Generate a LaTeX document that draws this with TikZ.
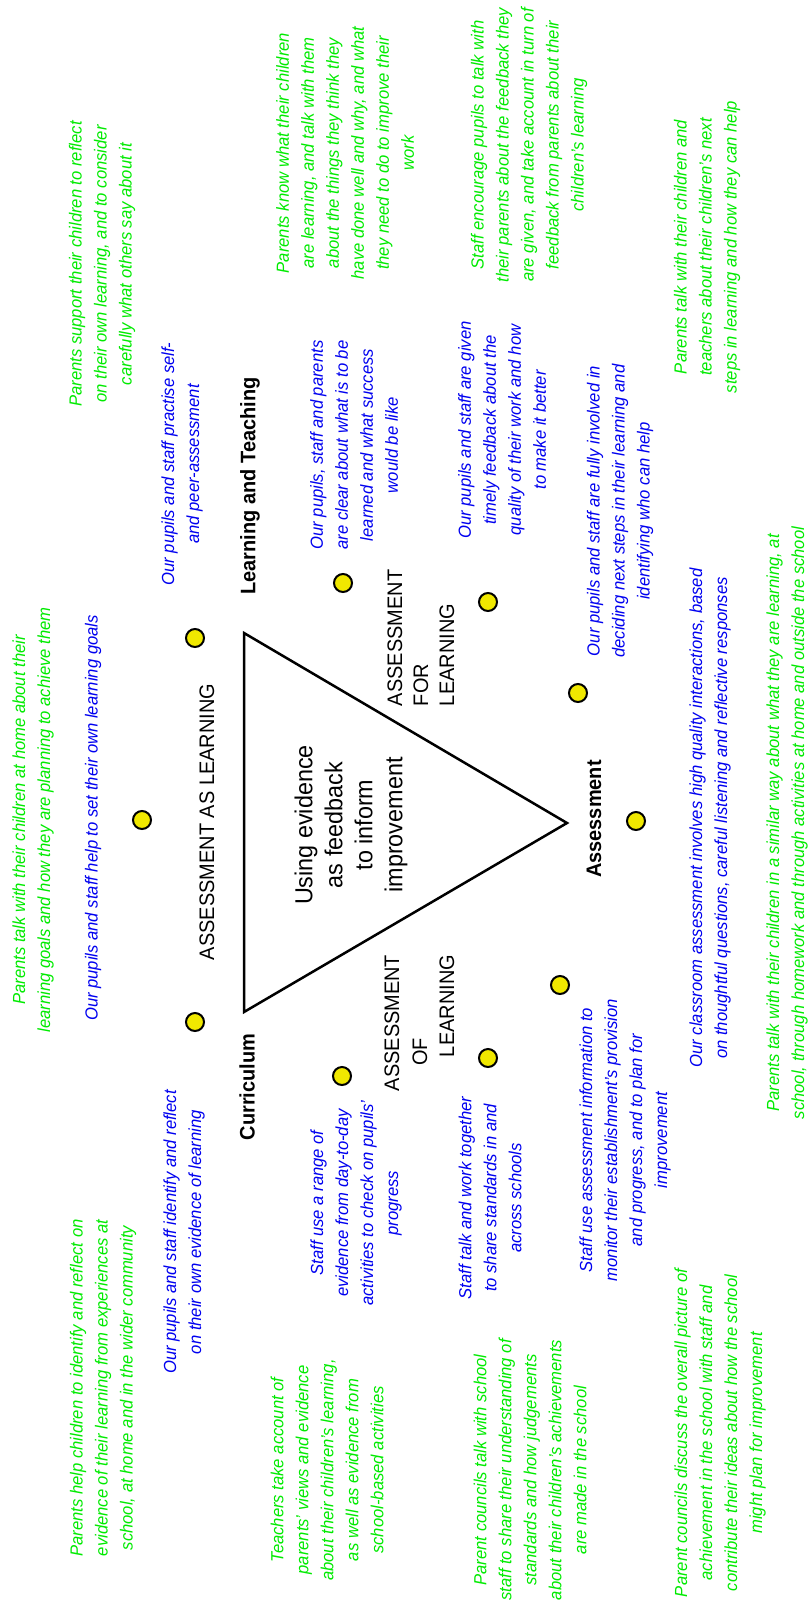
\documentclass[tikz,border=0pt]{standalone}
\usepackage{fontspec}
\setmainfont{Liberation Sans}
\newfontfamily\bodyfont[FakeStretch=0.95]{Liberation Sans}
\definecolor{pgreen}{RGB}{0,235,0}
\definecolor{pblue}{RGB}{0,0,240}
\definecolor{dotyellow}{RGB}{240,232,0}
\begin{document}
\begin{tikzpicture}[x=1pt,y=-1pt,
  every node/.style={inner sep=0pt,outer sep=0pt},
  rot/.style={rotate=90},
  parent/.style={rot,align=center,text=pgreen,font=\bodyfont\itshape\fontsize{17.5}{25}\selectfont},
  pupil/.style={rot,align=center,text=pblue,font=\bodyfont\itshape\fontsize{17.5}{25}\selectfont},
  corner/.style={rot,font=\bodyfont\bfseries\fontsize{21}{25}\selectfont},
  aslabel/.style={rot,font=\bodyfont\fontsize{21}{26}\selectfont},
  centretext/.style={rot,align=center,font=\bodyfont\fontsize{24.6}{30}\selectfont},
  dot/.style={circle,draw=black,line width=2pt,fill=dotyellow,minimum size=18pt},
  tri/.style={draw=black,line width=2.5pt,line join=miter}
]
\fill[white] (0,0) rectangle (811,1604);
\useasboundingbox (0,0) rectangle (811,1604);

% triangle
\coordinate (tl) at (244,633);
\coordinate (bl) at (244,1012);
\coordinate (ap) at (567,823);
\draw[tri] (tl) -- (bl) -- (ap) -- cycle;

% dots
\node[dot] (d1) at (195,638) {};
\node[dot] (d2) at (142,820) {};
\node[dot] (d3) at (195,1022) {};
\node[dot] (d4) at (343,583) {};
\node[dot] (d5) at (488,602) {};
\node[dot] (d6) at (578,693) {};
\node[dot] (d7) at (636,821) {};
\node[dot] (d8) at (560,985) {};
\node[dot] (d9) at (488,1058) {};
\node[dot] (d10) at (342,1076) {};

% corner labels
\node[corner] (lt) at (250,486) {Learning and Teaching};
\node[corner] (cur) at (247,1087) {Curriculum};
\node[corner] (ass) at (594,819) {Assessment};

% assessment labels
\node[aslabel] (aal) at (207,822) {ASSESSMENT AS LEARNING};
\node[aslabel,align=left,anchor=west] (afl) at (421,706) {ASSESSMENT\\FOR\\LEARNING};
\node[aslabel] (aol1) at (392,1023) {ASSESSMENT};
\node[aslabel] (aol2) at (420,1052) {OF};
\node[aslabel] (aol3) at (447,1006) {LEARNING};

% centre
\node[centretext] (centre) at (351,825) {Using evidence\\as feedback\\to inform\\improvement};

% green (parents)
\node[parent] (g1) at (102,264) {Parents support their children to reflect\\on their own learning, and to consider\\carefully what others say about it};
\node[parent] (g2) at (33,820) {Parents talk with their children at home about their\\learning goals and how they are planning to achieve them};
\node[parent] (g3) at (103,1388) {Parents help children to identify and reflect on\\evidence of their learning from experiences at\\school, at home and in the wider community};
\node[parent] (g4) at (345,153) {Parents know what their children\\are learning, and talk with them\\about the things they think they\\have done well and why, and what\\they need to do to improve their\\work};
\node[parent] (g5) at (529,145) {Staff encourage pupils to talk with\\their parents about the feedback they\\are given, and take account in turn of\\feedback from parents about their\\children’s learning};
\node[parent] (g6) at (707,247) {Parents talk with their children and\\teachers about their children’s next\\steps in learning and how they can help};
\node[parent] (g7) at (787,823) {Parents talk with their children in a similar way about what they are learning, at\\school, through homework and through activities at home and outside the school};
\node[parent] (g8) at (327,1470) {Teachers take account of\\parents’ views and evidence\\about their children’s learning,\\as well as evidence from\\school-based activities};
\node[parent] (g9) at (530,1470) {Parent councils talk with school\\staff to share their understanding of\\standards and how judgements\\about their children’s achievements\\are made in the school};
\node[parent] (g10) at (720,1433) {Parent councils discuss the overall picture of\\achievement in the school with staff and\\contribute their ideas about how the school\\might plan for improvement};

% blue (pupils and staff)
\node[pupil] (b1) at (182,464) {Our pupils and staff practise self-\\and peer-assessment};
\node[pupil] (b2) at (93,818) {Our pupils and staff help to set their own learning goals};
\node[pupil] (b3) at (184,1232) {Our pupils and staff identify and reflect\\on their own evidence of learning};
\node[pupil] (b4) at (354,445) {Our pupils, staff and parents\\are clear about what is to be\\learned and what success\\would be like};
\node[pupil] (b5) at (502,430) {Our pupils and staff are given\\timely feedback about the\\quality of their work and how\\to make it better};
\node[pupil] (b6) at (620,511) {Our pupils and staff are fully involved in\\deciding next steps in their learning and\\identifying who can help};
\node[pupil] (b7) at (710,818) {Our classroom assessment involves high quality interactions, based\\on thoughtful questions, careful listening and reflective responses};
\node[pupil] (b8) at (356,1203) {Staff use a range of\\evidence from day-to-day\\activities to check on pupils’\\progress};
\node[pupil] (b9) at (490,1198) {Staff talk and work together\\to share standards in and\\across schools};
\node[pupil] (b10) at (625,1140) {Staff use assessment information to\\monitor their establishment’s provision\\and progress, and to plan for\\improvement};
\end{tikzpicture}
\end{document}
